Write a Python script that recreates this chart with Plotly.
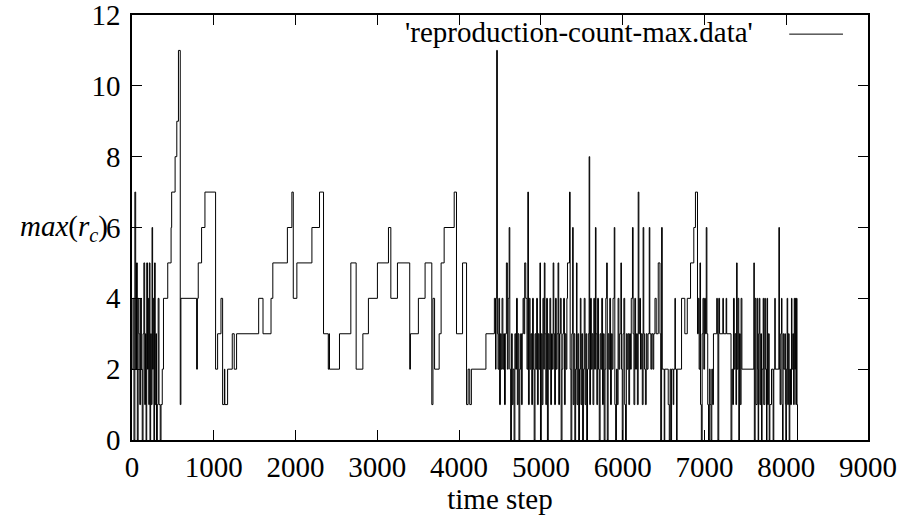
import plotly.graph_objects as go

# change points of the step series (time step, max reproduction count)
step_t = [0, 12, 24, 35, 45, 55, 65, 75, 85, 95, 105, 115, 125, 135, 145, 155, 165, 172, 180, 190,
          198, 205, 212, 220, 228, 236, 245, 252, 260, 268, 276, 284, 292, 300, 310, 320, 330, 345, 355, 370,
          385, 437, 478, 485, 527, 548, 568, 590, 598, 790, 800, 810, 851, 892, 1022, 1047, 1088, 1108, 1130, 1135,
          1169, 1226, 1250, 1279, 1549, 1602, 1700, 1722, 1900, 1955, 1972, 2016, 2200, 2293, 2342, 2400, 2410, 2415, 2537, 2676,
          2741, 2823, 2891, 3001, 3136, 3165, 3246, 3396, 3405, 3502, 3584, 3666, 3680, 3700, 3756, 3780, 3817, 3940, 3968, 4042,
          4091, 4110, 4130, 4150, 4328,
          4431, 4445, 4452, 4459, 4468, 4476, 4486, 4495, 4505, 4515, 4525, 4535, 4545, 4555, 4565, 4578, 4590, 4600, 4612, 4620,
          4630, 4640, 4650, 4660, 4672, 4682, 4692, 4702, 4712, 4722, 4732, 4742, 4752, 4762, 4772, 4782, 4792, 4802, 4815, 4830,
          4840, 4848, 4858, 4868, 4878, 4888, 4898, 4908, 4918, 4928, 4938, 4948, 4958, 4968, 4978, 4988, 4995, 5005, 5015, 5025,
          5035, 5042, 5050, 5060, 5070, 5080, 5090, 5100, 5110, 5120, 5130, 5140, 5150, 5158, 5168, 5178, 5188, 5198, 5210, 5218,
          5228, 5238, 5248, 5258, 5268, 5278, 5288, 5298, 5308, 5318, 5325, 5350, 5358, 5368, 5378, 5388, 5395, 5405, 5415, 5425,
          5435, 5442, 5452, 5462, 5472, 5482, 5490, 5500, 5510, 5520, 5530, 5540, 5550, 5560, 5570, 5580, 5590, 5597, 5607, 5617,
          5627, 5637, 5647, 5657, 5667, 5674, 5684, 5694, 5704, 5714, 5724, 5734, 5744, 5754, 5764, 5774, 5784, 5794, 5804, 5812,
          5822, 5832, 5842, 5852, 5862, 5872, 5882, 5897, 5904, 5914, 5924, 5934, 5944, 5954, 5964, 5978, 5985, 5995, 6005, 6015,
          6025, 6035, 6045, 6055, 6065, 6075, 6085, 6095, 6105, 6120, 6128, 6138, 6148, 6158, 6168, 6180, 6190, 6198, 6208, 6218,
          6228, 6240, 6250, 6258, 6268, 6278, 6288, 6298, 6310, 6325, 6332, 6345, 6355, 6370, 6380, 6395, 6410, 6435, 6456, 6465,
          6476, 6484, 6508, 6515, 6557, 6570, 6580, 6590, 6598, 6618, 6625, 6639, 6645, 6659, 6666, 6720, 6760, 6790, 6830, 6870,
          6890, 6915, 6925, 6935, 6945, 6952, 6962, 6972, 6982, 6992, 7002, 7012, 7022, 7030, 7040, 7050, 7060, 7070, 7080, 7090,
          7100, 7110, 7150, 7158, 7165, 7175, 7185, 7225, 7232, 7265, 7272, 7325, 7335, 7345, 7355, 7365, 7375, 7385, 7393, 7400,
          7410, 7420, 7428, 7438, 7448, 7458, 7604, 7610, 7620, 7630, 7645, 7652, 7657, 7663, 7670, 7678, 7688, 7698, 7705, 7718,
          7725, 7738, 7745, 7759, 7765, 7772, 7782, 7792, 7800, 7820, 7840, 7848, 7860, 7866, 7910, 7917, 7925, 7933, 7942, 7948,
          7955, 7962, 7970, 7983, 7990, 7995, 8002, 8011, 8018, 8026, 8036, 8044, 8052, 8064, 8070, 8080, 8090, 8098, 8105, 8112,
          8118, 8125, 8132, 8138]
step_v = [2, 4, 0, 7, 2, 5, 0, 4, 3, 1, 4, 2, 0, 3, 5, 1, 3, 0, 5, 2,
          4, 1, 5, 0, 3, 1, 6, 2, 4, 0, 5, 1, 3, 0, 1, 4, 1, 0, 1, 2,
          4, 5, 6, 7, 8, 9, 11, 1, 4, 2, 4, 5, 6, 7, 2, 3, 4, 1, 2, 1,
          2, 3, 2, 3, 4, 3, 4, 5, 6, 7, 4, 5, 6, 7, 3, 2, 3, 2, 3, 5,
          2, 3, 4, 5, 6, 4, 5, 2, 3, 4, 5, 1, 4, 2, 3, 5, 6, 7, 3, 5,
          1, 2, 1, 2, 3,
          4, 2, 4, 11, 3, 2, 4, 1, 3, 2, 4, 2, 3, 1, 3, 5, 2, 4, 6, 2,
          0, 3, 1, 2, 0, 3, 2, 4, 1, 3, 0, 2, 3, 1, 3, 4, 3, 5, 4, 2,
          7, 1, 4, 2, 3, 1, 4, 2, 0, 3, 2, 4, 1, 3, 2, 5, 0, 3, 1, 4,
          2, 5, 3, 1, 4, 0, 3, 2, 4, 1, 3, 2, 5, 3, 1, 4, 2, 3, 5, 1,
          3, 4, 0, 2, 3, 4, 1, 3, 2, 4, 5, 7, 2, 0, 3, 6, 1, 3, 0, 2,
          5, 1, 3, 0, 2, 4, 1, 3, 0, 2, 4, 1, 3, 0, 2, 3, 8, 1, 4, 2,
          3, 1, 4, 2, 6, 3, 1, 4, 2, 0, 3, 2, 4, 1, 3, 0, 2, 4, 5, 0,
          3, 2, 4, 1, 3, 2, 4, 6, 1, 0, 2, 1, 4, 2, 3, 5, 2, 0, 3, 4,
          1, 0, 3, 2, 3, 1, 3, 2, 4, 6, 3, 1, 4, 2, 3, 1, 7, 3, 4, 2,
          3, 1, 6, 3, 2, 1, 3, 2, 3, 6, 3, 2, 3, 2, 3, 4, 3, 5, 3, 0,
          6, 2, 0, 2, 1, 0, 2, 0, 2, 1, 2, 4, 2, 0, 2, 4, 3, 4, 5, 6,
          7, 3, 4, 2, 5, 1, 0, 3, 4, 2, 4, 3, 6, 3, 1, 0, 2, 1, 0, 2,
          1, 3, 4, 3, 0, 4, 3, 4, 3, 4, 3, 0, 2, 1, 4, 2, 3, 1, 5, 2,
          4, 0, 3, 1, 4, 2, 5, 0, 4, 1, 4, 2, 0, 3, 4, 1, 3, 0, 2, 4,
          1, 4, 2, 0, 4, 1, 3, 0, 1, 2, 0, 2, 4, 2, 6, 2, 1, 3, 4, 1,
          0, 3, 2, 3, 1, 0, 2, 4, 1, 3, 0, 2, 1, 4, 2, 3, 1, 4, 2, 4,
          1, 4, 1, 0]

x_ticks = [0, 1000, 2000, 3000, 4000, 5000, 6000, 7000, 8000, 9000]
y_ticks = [0, 2, 4, 6, 8, 10, 12]

font = dict(family="Liberation Serif", size=29, color="black")

fig = go.Figure(go.Scatter(
    x=step_t, y=step_v, mode="lines", line_shape="hv",
    line=dict(color="black", width=1), showlegend=False, hoverinfo="skip"))

axis = dict(showline=True, linecolor="black", linewidth=1.5, mirror="ticks",
            ticks="inside", ticklen=10, tickcolor="black", tickwidth=1,
            showgrid=False, zeroline=False, tickfont=font, automargin=False,
            ticklabeloverflow="allow")
fig.update_xaxes(range=[0, 9000], tickvals=x_ticks, ticklabelstandoff=0,
                 title=dict(text="time step", font=font, standoff=0), **axis)
fig.update_yaxes(range=[0, 12], tickvals=y_ticks, ticklabelstandoff=4, **axis)

# y label in math italics, at the level of the 6 tick
fig.add_annotation(text="<i>max</i>(<i>r<sub>c</sub></i>)", xref="paper", yref="y",
                   x=-0.030, y=6, xanchor="right", yanchor="middle", showarrow=False, font=font)

# gnuplot style key: title then line sample on the right
fig.add_annotation(text="'reproduction-count-max.data'", xref="paper", yref="paper",
                   x=0.846, y=0.961, xanchor="right", yanchor="middle", showarrow=False, font=font)
fig.add_shape(type="line", xref="paper", yref="paper", x0=0.893, x1=0.966, y0=0.955, y1=0.955,
              line=dict(color="black", width=1))

fig.update_layout(template="none", width=904, height=516, plot_bgcolor="white", paper_bgcolor="white",
                  margin=dict(l=132, r=36, t=15, b=76), font=font, showlegend=False)
# drop the default page margin so the figure sits at the window corner
fig.write_html("out.html", config={"displayModeBar": False},
               post_script="document.body.style.margin='0';")
